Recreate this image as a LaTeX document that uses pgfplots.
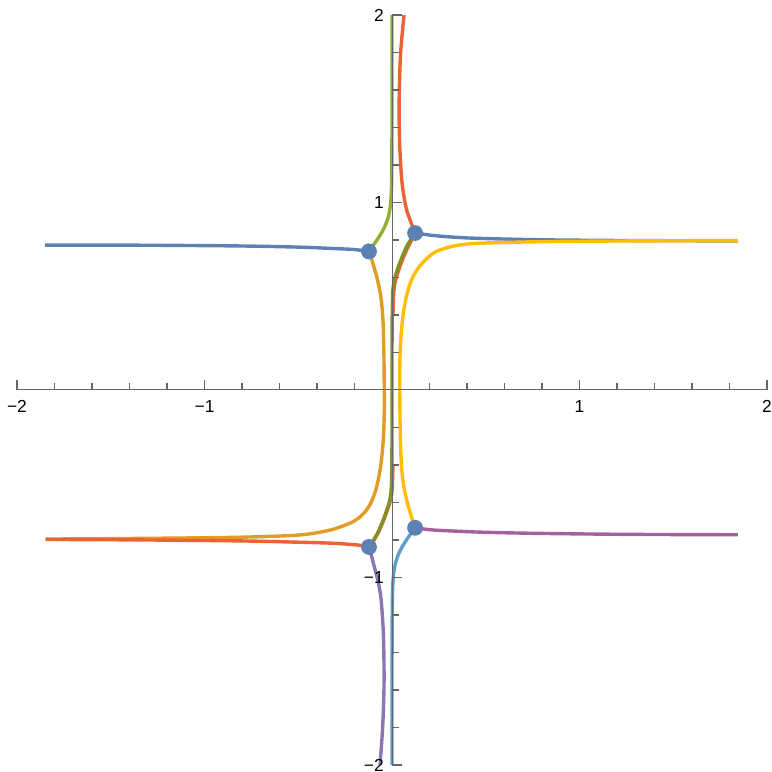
\documentclass[border=0pt]{standalone}
\usepackage{fontspec}
\setmainfont{Liberation Sans}
\usepackage{pgfplots}
\pgfplotsset{compat=1.18}

\definecolor{c1}{HTML}{5E81B5}
\definecolor{c2}{HTML}{E19C24}
\definecolor{c3}{HTML}{8FB032}
\definecolor{c4}{HTML}{EB6235}
\definecolor{c5}{HTML}{8778B3}
\definecolor{c7}{HTML}{5D9EC7}
\definecolor{c8}{HTML}{FFBF00}
\definecolor{c9}{HTML}{A5609D}
\definecolor{c10}{HTML}{849127}
\definecolor{axgray}{HTML}{666666}

\begin{document}
\begin{tikzpicture}
\begin{axis}[
    scale only axis,
    width=375pt, height=375pt,
    xmin=-2, xmax=2, ymin=-2, ymax=2,
    enlargelimits=false,
    clip=false,
    axis on top,
    axis lines=middle,
    axis line style={-, axgray, line width=0.5pt},
    every inner x axis line/.append style={-},
    every inner y axis line/.append style={-},
    xtick={-2,-1,1,2},
    ytick={-2,-1,1,2},
    xticklabels={−2,−1,1,2},
    yticklabels={−2,−1,1,2},
    minor xtick={-1.8,-1.6,-1.4,-1.2,-0.8,-0.6,-0.4,-0.2,0.2,0.4,0.6,0.8,1.2,1.4,1.6,1.8},
    minor ytick={-1.8,-1.6,-1.4,-1.2,-0.8,-0.6,-0.4,-0.2,0.2,0.4,0.6,0.8,1.2,1.4,1.6,1.8},
    tick align=inside,
    major tick length=5pt,
    minor tick length=3.3pt,
    tick style={axgray, line width=0.6pt},
    ticklabel style={font=\fontsize{8.7}{10}\selectfont, text=black},
    xticklabel style={anchor=north, yshift=-1.5pt},
    yticklabel style={anchor=east, xshift=-0.6pt},
    every axis plot/.append style={line width=1.7pt},
]
% blue, left branch
\addplot[c1, smooth] coordinates {
    (-1.850,0.773) (-1.290,0.772) (-0.800,0.768) (-0.500,0.762)
    (-0.300,0.754) (-0.200,0.749) (-0.123,0.739)
};
% blue, right branch
\addplot[c1, smooth] coordinates {
    (0.123,0.837) (0.160,0.832) (0.203,0.826) (0.300,0.817)
    (0.452,0.809) (0.800,0.801) (1.270,0.797) (1.845,0.795)
};
% orange
\addplot[c2, smooth, tension=0.5] coordinates {
    (-0.123,0.739) (-0.105,0.685) (-0.090,0.635) (-0.078,0.590)
    (-0.068,0.545) (-0.060,0.500) (-0.054,0.450) (-0.050,0.400)
    (-0.047,0.340) (-0.045,0.270) (-0.043,0.180) (-0.042,0.080)
    (-0.041,-0.050) (-0.042,-0.150) (-0.045,-0.240) (-0.050,-0.310)
    (-0.057,-0.380) (-0.066,-0.440) (-0.077,-0.495) (-0.090,-0.545)
    (-0.108,-0.592) (-0.126,-0.625) (-0.148,-0.655) (-0.180,-0.684)
    (-0.224,-0.710) (-0.330,-0.747) (-0.490,-0.773) (-0.800,-0.785)
    (-1.290,-0.791) (-1.847,-0.795)
};
% green
\addplot[c3, smooth, tension=0.5] coordinates {
    (-0.123,0.739) (-0.105,0.765) (-0.080,0.800) (-0.055,0.840)
    (-0.035,0.880) (-0.018,0.930) (-0.008,0.990) (-0.003,1.070)
    (-0.001,1.200) (0,1.500) (0,2.000)
};
% red, top
\addplot[c4, smooth, tension=0.5] coordinates {
    (0.064,2.000) (0.046,1.800) (0.039,1.600) (0.038,1.440)
    (0.042,1.280) (0.052,1.120) (0.064,1.030) (0.078,0.960)
    (0.095,0.910) (0.110,0.871) (0.123,0.837)
    (0.105,0.800) (0.083,0.757) (0.065,0.717) (0.049,0.677)
    (0.033,0.632) (0.018,0.582) (0.009,0.517) (0.005,0.400)
};
% red, bottom left
\addplot[c4, smooth, tension=0.5] coordinates {
    (-1.847,-0.797) (-1.290,-0.800) (-0.800,-0.805) (-0.490,-0.812)
    (-0.300,-0.818) (-0.171,-0.828) (-0.123,-0.837)
    (-0.095,-0.798) (-0.073,-0.760) (-0.055,-0.720) (-0.039,-0.680)
    (-0.023,-0.635) (-0.008,-0.590) (0.001,-0.525) (0.005,-0.400)
};
% purple, bottom
\addplot[c5, smooth, tension=0.5] coordinates {
    (-0.123,-0.837) (-0.108,-0.890) (-0.090,-0.960) (-0.072,-1.030)
    (-0.058,-1.120) (-0.047,-1.280) (-0.043,-1.440) (-0.043,-1.600)
    (-0.050,-1.800) (-0.064,-2.000)
};
% light blue
\addplot[c7, smooth, tension=0.5] coordinates {
    (0.123,-0.735) (0.105,-0.760) (0.080,-0.795) (0.055,-0.835)
    (0.035,-0.875) (0.018,-0.925) (0.008,-0.985) (0.003,-1.065)
    (0.001,-1.200) (0,-1.500) (0,-2.000)
};
% yellow
\addplot[c8, smooth, tension=0.5] coordinates {
    (0.123,-0.735) (0.105,-0.681) (0.090,-0.631) (0.078,-0.586)
    (0.068,-0.541) (0.060,-0.496) (0.054,-0.446) (0.050,-0.396)
    (0.047,-0.336) (0.045,-0.266) (0.043,-0.176) (0.042,-0.076)
    (0.041,0.054) (0.042,0.154) (0.045,0.244) (0.050,0.314)
    (0.057,0.384) (0.066,0.444) (0.077,0.499) (0.090,0.549)
    (0.108,0.596) (0.126,0.629) (0.149,0.662) (0.190,0.705)
    (0.238,0.740) (0.330,0.768) (0.452,0.782) (0.800,0.791)
    (1.270,0.795) (1.845,0.797)
};
% magenta, bottom right
\addplot[c9, smooth] coordinates {
    (0.123,-0.735) (0.200,-0.745) (0.300,-0.751) (0.500,-0.759)
    (0.800,-0.765) (1.270,-0.770) (1.845,-0.772)
};
% olive, through the centre
\addplot[c10, smooth, tension=0.5] coordinates {
    (0.123,0.837) (0.100,0.803) (0.078,0.765) (0.060,0.725)
    (0.044,0.685) (0.028,0.640) (0.013,0.590) (0.004,0.525)
    (0.001,0.400) (0,0.200) (0,0.000) (0,-0.200)
    (-0.001,-0.400) (-0.004,-0.525) (-0.013,-0.590) (-0.028,-0.640)
    (-0.044,-0.685) (-0.060,-0.725) (-0.078,-0.765) (-0.100,-0.803)
    (-0.123,-0.837)
};
% the four points
\addplot[only marks, mark=*, mark size=3.1pt, c1, mark options={draw=c1, fill=c1}] coordinates {
    (0.123,0.837) (-0.123,0.739) (0.123,-0.735) (-0.123,-0.837)
};
\coordinate (bl) at (axis cs:-2.0907,-2.0373);
\coordinate (tr) at (axis cs:2.0213,2.0800);
\end{axis}
\pgfresetboundingbox
\path[use as bounding box] (bl) rectangle (tr);
\end{tikzpicture}
\end{document}
